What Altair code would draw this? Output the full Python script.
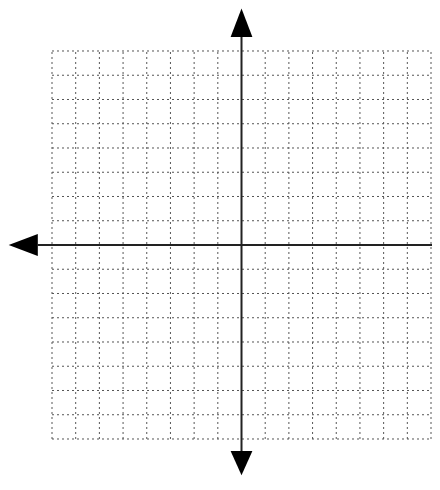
import altair as alt
import pandas as pd

# grid line positions (units)
grid_ticks = list(range(-8, 9))
grid_min, grid_max = -8, 8

# axis extents (units)
h_axis_x = [-8.6, 8.05]
v_axis_y = [-8.5, 8.58]

# arrowheads
left_tip_x, left_base_x = -9.83, -8.6
top_tip_y, top_base_y = 9.75, 8.58
bottom_tip_y, bottom_base_y = -9.5, -8.5
half_wx = 0.46
half_wy = 0.455

XD = [-9.858, 8.042]
YD = [-9.526, 9.773]
xs = alt.Scale(domain=XD, nice=False, zero=False)
ys = alt.Scale(domain=YD, nice=False, zero=False)

vgrid = pd.DataFrame({"x": grid_ticks, "y": grid_min, "y2": grid_max})
hgrid = pd.DataFrame({"y": grid_ticks, "x": grid_min, "x2": grid_max})

dash = dict(color="#555555", strokeWidth=1, strokeDash=[2, 3], clip=False)

vlines = alt.Chart(vgrid).mark_rule(**dash).encode(
    x=alt.X("x:Q", scale=xs, axis=None),
    y=alt.Y("y:Q", scale=ys, axis=None),
    y2="y2:Q",
)
hlines = alt.Chart(hgrid).mark_rule(**dash).encode(
    y=alt.Y("y:Q", scale=ys, axis=None),
    x=alt.X("x:Q", scale=xs, axis=None),
    x2="x2:Q",
)

haxis = alt.Chart(pd.DataFrame({"x": [h_axis_x[0]], "x2": [h_axis_x[1]], "y": [0]})).mark_rule(
    color="#222222", strokeWidth=2, clip=False
).encode(
    x=alt.X("x:Q", scale=xs, axis=None), x2="x2:Q", y=alt.Y("y:Q", scale=ys, axis=None)
)
vaxis = alt.Chart(pd.DataFrame({"y": [v_axis_y[0]], "y2": [v_axis_y[1]], "x": [0]})).mark_rule(
    color="#222222", strokeWidth=2, clip=False
).encode(
    y=alt.Y("y:Q", scale=ys, axis=None), y2="y2:Q", x=alt.X("x:Q", scale=xs, axis=None)
)

left_arrow = alt.Chart(pd.DataFrame({
    "x": [left_tip_x, left_base_x], "y": [0, -half_wy], "y2": [0, half_wy]
})).mark_area(color="black", orient="vertical", clip=False).encode(
    x=alt.X("x:Q", scale=xs, axis=None), y=alt.Y("y:Q", scale=ys, axis=None), y2="y2:Q"
)
top_arrow = alt.Chart(pd.DataFrame({
    "y": [top_base_y, top_tip_y], "x": [-half_wx, 0], "x2": [half_wx, 0]
})).mark_area(color="black", orient="horizontal", clip=False).encode(
    y=alt.Y("y:Q", scale=ys, axis=None), x=alt.X("x:Q", scale=xs, axis=None), x2="x2:Q"
)
bottom_arrow = alt.Chart(pd.DataFrame({
    "y": [bottom_tip_y, bottom_base_y], "x": [0, -half_wx], "x2": [0, half_wx]
})).mark_area(color="black", orient="horizontal", clip=False).encode(
    y=alt.Y("y:Q", scale=ys, axis=None), x=alt.X("x:Q", scale=xs, axis=None), x2="x2:Q"
)

chart = alt.layer(vlines, hlines, haxis, vaxis, left_arrow, top_arrow, bottom_arrow).properties(
    width=424, height=468, padding=0, autosize=alt.AutoSizeParams(type="none"),
    background="white",
).configure_view(stroke=None)

chart.save("out.html", embed_options={"renderer": "svg", "actions": False})
